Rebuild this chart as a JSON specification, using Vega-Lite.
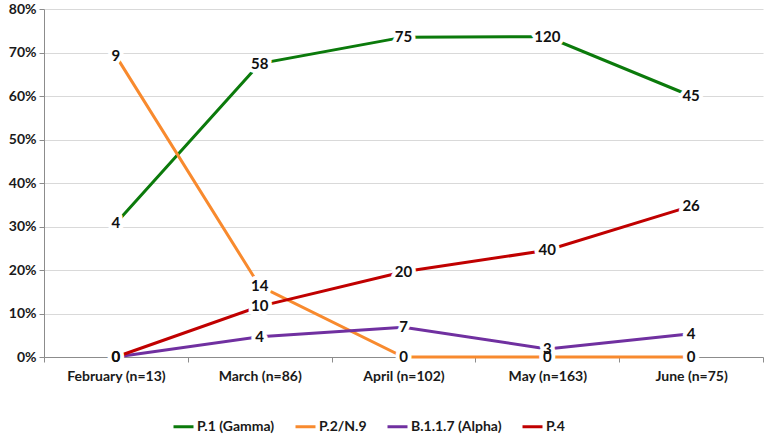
{
  "$schema": "https://vega.github.io/schema/vega-lite/v6.json",
  "width": 719,
  "height": 348,
  "autosize": {"type": "none"},
  "padding": {"left": 44, "top": 9, "right": 2, "bottom": 89},
  "background": "white",
  "data": {
    "values": [
      {"month": "February (n=13)", "variant": "P.1 (Gamma)", "pct": 0.3077, "n": 4},
      {"month": "March (n=86)", "variant": "P.1 (Gamma)", "pct": 0.6744, "n": 58},
      {"month": "April (n=102)", "variant": "P.1 (Gamma)", "pct": 0.7353, "n": 75},
      {"month": "May (n=163)", "variant": "P.1 (Gamma)", "pct": 0.7362, "n": 120},
      {"month": "June (n=75)", "variant": "P.1 (Gamma)", "pct": 0.6, "n": 45},
      {"month": "February (n=13)", "variant": "P.2/N.9", "pct": 0.6923, "n": 9},
      {"month": "March (n=86)", "variant": "P.2/N.9", "pct": 0.1628, "n": 14},
      {"month": "April (n=102)", "variant": "P.2/N.9", "pct": 0, "n": 0},
      {"month": "May (n=163)", "variant": "P.2/N.9", "pct": 0, "n": 0},
      {"month": "June (n=75)", "variant": "P.2/N.9", "pct": 0, "n": 0},
      {"month": "February (n=13)", "variant": "B.1.1.7 (Alpha)", "pct": 0, "n": 0},
      {"month": "March (n=86)", "variant": "B.1.1.7 (Alpha)", "pct": 0.0465, "n": 4},
      {"month": "April (n=102)", "variant": "B.1.1.7 (Alpha)", "pct": 0.0686, "n": 7},
      {"month": "May (n=163)", "variant": "B.1.1.7 (Alpha)", "pct": 0.0184, "n": 3},
      {"month": "June (n=75)", "variant": "B.1.1.7 (Alpha)", "pct": 0.0533, "n": 4},
      {"month": "February (n=13)", "variant": "P.4", "pct": 0, "n": 0},
      {"month": "March (n=86)", "variant": "P.4", "pct": 0.1163, "n": 10},
      {"month": "April (n=102)", "variant": "P.4", "pct": 0.1961, "n": 20},
      {"month": "May (n=163)", "variant": "P.4", "pct": 0.2454, "n": 40},
      {"month": "June (n=75)", "variant": "P.4", "pct": 0.3467, "n": 26}
    ]
  },
  "encoding": {
    "x": {
      "field": "month",
      "type": "nominal",
      "sort": null,
      "scale": {"paddingInner": 0, "paddingOuter": 0},
      "axis": {
        "title": null,
        "labelAngle": 0,
        "tickBand": "extent",
        "labelPadding": 7,
        "tickSize": 5
      }
    },
    "y": {
      "field": "pct",
      "type": "quantitative",
      "scale": {"domain": [0, 0.8], "nice": false},
      "axis": {
        "title": null,
        "format": ".0%",
        "values": [0, 0.1, 0.2, 0.3, 0.4, 0.5, 0.6, 0.7, 0.8],
        "tickSize": 5,
        "labelPadding": 3
      }
    }
  },
  "layer": [
    {
      "mark": {"type": "line", "strokeWidth": 3},
      "encoding": {
        "color": {
          "field": "variant",
          "type": "nominal",
          "sort": null,
          "scale": {
            "domain": ["P.1 (Gamma)", "P.2/N.9", "B.1.1.7 (Alpha)", "P.4"],
            "range": ["#0b7a0b", "#f88a2e", "#7030a0", "#c00000"]
          },
          "legend": {
            "title": null,
            "orient": "none",
            "direction": "horizontal",
            "legendX": 128,
            "legendY": 406,
            "symbolType": "stroke",
            "symbolStrokeWidth": 3,
            "symbolSize": 400,
            "labelFontSize": 14,
            "labelFontWeight": "bold",
            "labelFont": "Lato, sans-serif",
            "labelColor": "#1a1a1a",
            "columnPadding": 14,
            "labelOffset": 2
          }
        },
        "detail": {"field": "variant"}
      }
    },
    {
      "mark": {
        "type": "text",
        "fontSize": 15,
        "fontWeight": "bold",
        "font": "Lato, sans-serif",
        "color": "white",
        "stroke": "white",
        "strokeWidth": 8,
        "strokeJoin": "round"
      },
      "encoding": {"text": {"field": "n", "type": "quantitative"}}
    },
    {
      "mark": {
        "type": "text",
        "fontSize": 15,
        "fontWeight": "bold",
        "font": "Lato, sans-serif",
        "color": "#111111"
      },
      "encoding": {"text": {"field": "n", "type": "quantitative"}}
    }
  ],
  "config": {
    "view": {"stroke": null},
    "axis": {
      "labelFont": "Lato, sans-serif",
      "labelFontSize": 14,
      "labelFontWeight": "bold",
      "labelColor": "#1a1a1a",
      "domainColor": "#8c8c8c",
      "tickColor": "#8c8c8c",
      "gridColor": "#d9d9d9",
      "gridWidth": 1
    },
    "axisX": {"grid": false},
    "axisY": {"grid": true}
  }
}
